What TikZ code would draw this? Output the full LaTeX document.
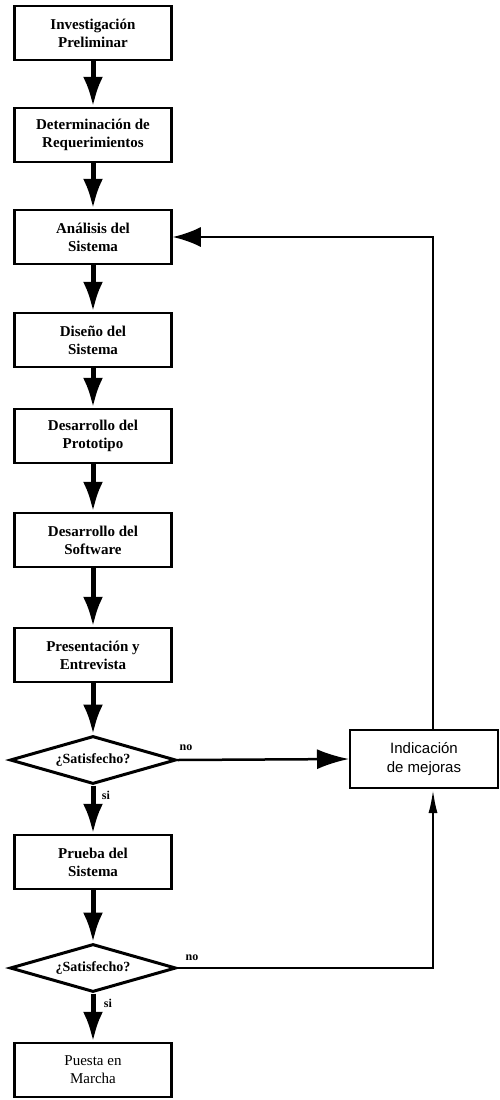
\documentclass[tikz,border=0pt]{standalone}
\usepackage{fontspec}
\setmainfont{Liberation Serif}
\newfontfamily\sansf{Liberation Sans}
\usetikzlibrary{shapes.geometric,arrows.meta}
\begin{document}
\begin{tikzpicture}[x=1pt,y=-1pt,
  stepbox/.style={draw, line width=2.5pt, minimum width=157pt, minimum height=54pt,
    align=center, inner sep=0pt, font=\fontsize{15}{18}\selectfont\bfseries},
  plainbox/.style={stepbox, font=\fontsize{15}{18}\selectfont},
  indbox/.style={draw, line width=2pt, minimum width=148pt, minimum height=58pt,
    align=center, inner sep=0pt, font=\sansf\fontsize{15}{19}\selectfont},
  decision/.style={draw, diamond, aspect=3.5, line width=3pt, minimum width=166pt, minimum height=48pt,
    inner sep=0pt, font=\fontsize{14}{16}\selectfont\bfseries},
  flow/.style={line width=5pt, -{Latex[length=30pt,width=20pt]}},
  side/.style={line width=2.5pt, -{Latex[length=32pt,width=20pt]}},
  back/.style={line width=2.5pt},
  lbl/.style={inner sep=0pt, font=\fontsize{12}{14}\selectfont\bfseries}
]
\useasboundingbox (0,0) rectangle (500,1100);
\fill[white] (0,0) rectangle (500,1100);

\node[stepbox] (b1) at (93,33) {Investigación\\Preliminar};
\node[stepbox] (b2) at (93,135) {Determinación de\\Requerimientos};
\node[stepbox] (b3) at (93,237) {Análisis del\\Sistema};
\node[stepbox] (b4) at (93,340) {Diseño del\\Sistema};
\node[stepbox] (b5) at (93,436) {Desarrollo del\\Prototipo};
\node[stepbox] (b6) at (93,540) {Desarrollo del\\Software};
\node[stepbox] (b7) at (93,655) {Presentación y\\Entrevista};
\node[decision] (d1) at (93,760) {¿Satisfecho?};
\node[stepbox] (b8) at (93,862) {Prueba del\\Sistema};
\node[decision] (d2) at (93,968) {¿Satisfecho?};
\node[plainbox] (b9) at (93,1070) {Puesta en\\Marcha};
\node[indbox] (ind) at (424,759) {Indicación\\de mejoras};
\coordinate (rx) at (433,0);

\draw[flow] (b1) -- (b2);
\draw[flow] (b2) -- (b3);
\draw[flow] (b3) -- (b4);
\draw[flow] (b4) -- (b5);
\draw[flow] (b5) -- (b6);
\draw[flow] (b6) -- (b7);
\draw[flow] (b7) -- (d1);
\draw[flow] (d1) -- (b8);
\draw[flow] (b8) -- (d2);
\draw[flow] (d2) -- (b9);

\draw[side] (d1.east) -- (ind.west);
\draw[back, -{Latex[length=28pt,width=20pt]}] (ind.north -| rx) |- (b3.east);
\draw[back, -{Latex[length=24pt,width=9pt]}] (d2.east) -| (ind.south -| rx);

\node[lbl] (no1) at (186,748) {no};
\node[lbl] (si1) at (106,795) {si};
\node[lbl] (no2) at (192,958) {no};
\node[lbl] (si2) at (108,1003) {si};
\end{tikzpicture}
\end{document}
